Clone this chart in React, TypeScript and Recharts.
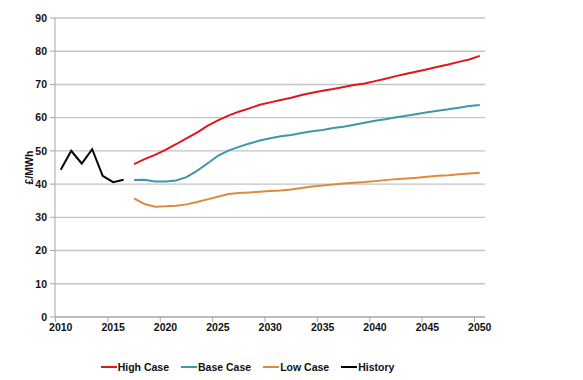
import React from 'react';
import { LineChart, Line, XAxis, YAxis, CartesianGrid, Legend } from 'recharts';

const years = [
  2010, 2011, 2012, 2013, 2014, 2015, 2016, 2017, 2018, 2019, 2020, 2021, 2022, 2023,
  2024, 2025, 2026, 2027, 2028, 2029, 2030, 2031, 2032, 2033, 2034, 2035, 2036, 2037,
  2038, 2039, 2040, 2041, 2042, 2043, 2044, 2045, 2046, 2047, 2048, 2049, 2050,
];

// 2010-2016
const history = [44.3, 50.0, 46.2, 50.5, 42.5, 40.6, 41.3];

// 2017-2050
const highCase = [
  46.0, 47.5, 48.8, 50.3, 52.0, 53.8, 55.5, 57.5, 59.2, 60.6, 61.8, 62.8, 63.9, 64.6,
  65.3, 66.0, 66.8, 67.5, 68.1, 68.6, 69.2, 69.8, 70.3, 71.0, 71.7, 72.5, 73.2, 73.9,
  74.6, 75.3, 76.0, 76.8, 77.5, 78.6,
];
const baseCase = [
  41.2, 41.3, 40.8, 40.8, 41.1, 42.1, 44.0, 46.2, 48.5, 50.1, 51.2, 52.2, 53.1, 53.8,
  54.4, 54.8, 55.4, 55.9, 56.3, 56.9, 57.3, 57.9, 58.5, 59.1, 59.5, 60.1, 60.6, 61.1,
  61.6, 62.1, 62.5, 63.0, 63.5, 63.8,
];
const lowCase = [
  35.7, 34.0, 33.2, 33.3, 33.5, 33.9, 34.6, 35.4, 36.2, 37.0, 37.3, 37.5, 37.7, 37.9,
  38.1, 38.4, 38.8, 39.3, 39.6, 39.9, 40.2, 40.4, 40.6, 40.9, 41.2, 41.5, 41.7, 41.9,
  42.2, 42.5, 42.7, 43.0, 43.2, 43.4,
];

const xTicks = [2010, 2015, 2020, 2025, 2030, 2035, 2040, 2045, 2050];
const yTicks = [0, 10, 20, 30, 40, 50, 60, 70, 80, 90];

const historyStart = 2010;
const forecastStart = 2017;

const data = years.map((year) => {
  const hi = year - historyStart;
  const fi = year - forecastStart;
  return {
    year,
    history: hi >= 0 && hi < history.length ? history[hi] : null,
    high: fi >= 0 ? highCase[fi] : null,
    base: fi >= 0 ? baseCase[fi] : null,
    low: fi >= 0 ? lowCase[fi] : null,
  };
});

const W = 583;
const H = 380;
const margin = { top: 18, right: 98, bottom: 13, left: 10 };
const xDomain: [number, number] = [2009.45, 2050.5];
const plotWidth = W - margin.left - 45 - margin.right;
const halfYear = plotWidth / (xDomain[1] - xDomain[0]) / 2;

const font = '"Liberation Sans", Arial, sans-serif';
const fontSize = 10.5;
const axisGray = '#a6a6a6';
const textColor = '#111';

const XTick = (props: any) => {
  const { x, y, payload } = props;
  return (
    <g>
      <line x1={x - halfYear} x2={x - halfYear} y1={y} y2={y + 5} stroke={axisGray} />
      <text x={x} y={y + 14} textAnchor="middle" fontSize={fontSize} fontWeight="bold" fontFamily={font} fill={textColor}>
        {payload.value}
      </text>
    </g>
  );
};

const legendItems = [
  { name: 'High Case', color: '#e0161d' },
  { name: 'Base Case', color: '#4096ab' },
  { name: 'Low Case', color: '#dc8a3c' },
  { name: 'History', color: '#000000' },
];

const LegendContent = () => (
  <div
    style={{
      display: 'flex',
      justifyContent: 'center',
      fontFamily: font,
      fontSize,
      fontWeight: 'bold',
      color: textColor,
      lineHeight: '14px',
    }}
  >
    {legendItems.map((it) => (
      <div key={it.name} style={{ display: 'flex', alignItems: 'center', margin: '0 6px' }}>
        <span style={{ display: 'inline-block', width: 16, height: 2, background: it.color, marginRight: 1 }} />
        <span>{it.name}</span>
      </div>
    ))}
  </div>
);

export default function App() {
  return (
    <div style={{ position: 'absolute', left: 0, top: 0, background: '#fff' }}>
      <LineChart width={W} height={H} data={data} margin={margin}>
        <CartesianGrid horizontal vertical={false} stroke="#c4c4c4" strokeWidth={1.4} />
        <XAxis
          dataKey="year"
          type="number"
          domain={xDomain}
          ticks={xTicks}
          allowDataOverflow
          height={30}
          tickSize={0}
          tickMargin={0}
          tickLine={false}
          axisLine={{ stroke: axisGray }}
          tick={<XTick />}
        />
        <YAxis
          domain={[0, 90]}
          ticks={yTicks}
          width={45}
          tickSize={5}
          tickMargin={3}
          tickLine={{ stroke: axisGray }}
          axisLine={{ stroke: axisGray }}
          tick={{ fontSize, fontWeight: 'bold', fontFamily: font, fill: textColor }}
          label={{
            value: '£/MWh',
            angle: -90,
            position: 'insideLeft',
            offset: 19,
            style: { fontSize, fontWeight: 'bold', fontFamily: font, fill: textColor, textAnchor: 'middle' },
          }}
        />
        <Legend
          verticalAlign="bottom"
          height={20}
          wrapperStyle={{ bottom: 0 }}
          content={<LegendContent />}
        />
        <Line dataKey="high" stroke="#e0161d" strokeWidth={2} dot={false} isAnimationActive={false} />
        <Line dataKey="base" stroke="#4096ab" strokeWidth={2} dot={false} isAnimationActive={false} />
        <Line dataKey="low" stroke="#dc8a3c" strokeWidth={2} dot={false} isAnimationActive={false} />
        <Line dataKey="history" stroke="#000000" strokeWidth={2} dot={false} isAnimationActive={false} />
      </LineChart>
    </div>
  );
}
